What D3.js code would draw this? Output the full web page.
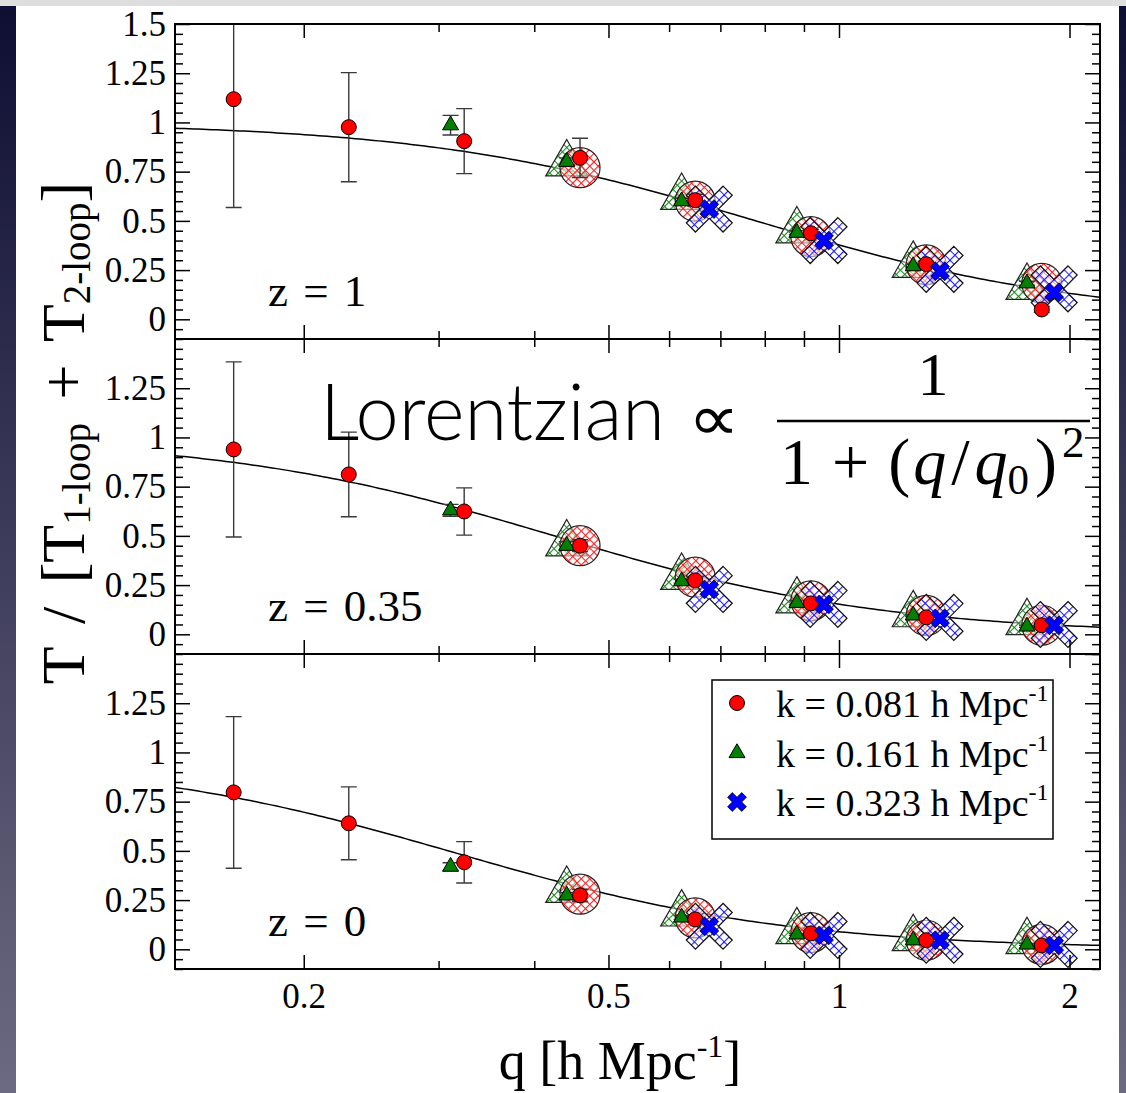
<!DOCTYPE html>
<html>
<head>
<meta charset="utf-8">
<script src="https://cdn.jsdelivr.net/npm/d3@7"></script>
<style>
  body { margin: 0; background: #fff; }
  svg { display: block; }
  .tick text { font-family: "Liberation Serif", "Times New Roman", serif; font-size: 35px; fill: #000; }
  .tick line { stroke: #000; stroke-width: 1.5; }
  .serif { font-family: "Liberation Serif", "Times New Roman", serif; fill: #000; }
</style>
</head>
<body>
<div id="chart"></div>
<script>
// Three stacked panels: T / [T1-loop + T2-loop] against q (log axis), one per redshift
const width = 1126, height = 1093;

// ---- values ----
const panelLabels = ["z = 1", "z = 0.35", "z = 0"];
const xMajor = [0.2, 0.5, 1, 2];
const xMinor = [0.3, 0.4, 0.6, 0.7, 0.8, 0.9];
const xTickLabels = ["0.2", "0.5", "1", "2"];
const yMajorTop = [0, 0.25, 0.5, 0.75, 1, 1.25, 1.5];
const yTickLabelsTop = ["0", "0.25", "0.5", "0.75", "1", "1.25", "1.5"];
const yMajor = [0, 0.25, 0.5, 0.75, 1, 1.25];
const yTickLabels = ["0", "0.25", "0.5", "0.75", "1", "1.25"];

const qRed   = [0.162, 0.229, 0.324, 0.459, 0.649, 0.919, 1.30, 1.84];
const qGreen = [0.311, 0.441, 0.623, 0.881, 1.25, 1.76];
const qBlue  = [0.677, 0.956, 1.355, 1.91];

// k = 0.081 (red circles), one row per panel
const redVal = [
  [1.118, 0.976, 0.905, 0.82, 0.605, 0.437, 0.28, 0.05],
  [0.939, 0.812, 0.624, 0.45, 0.274, 0.157, 0.086, 0.046],
  [0.797, 0.64, 0.442, 0.274, 0.152, 0.081, 0.046, 0.02]
];
const redErr = [
  [0.55, 0.277, 0.165, 0.10, 0.03, 0.02, 0.015, 0.015],
  [0.445, 0.215, 0.12, 0.03, 0.02, 0.015, 0.01, 0.01],
  [0.385, 0.185, 0.105, 0.03, 0.015, 0.01, 0.01, 0.01]
];
// k = 0.161 (green triangles)
const greenVal = [
  [0.986, 0.80, 0.60, 0.44, 0.27, 0.183],
  [0.63, 0.45, 0.27, 0.16, 0.096, 0.04],
  [0.42, 0.274, 0.162, 0.076, 0.046, 0.025]
];
const greenErr = [
  [0.05, 0.02, 0.015, 0.01, 0.01, 0.01],
  [0.03, 0.02, 0.01, 0.01, 0.005, 0.005],
  [0.02, 0.015, 0.01, 0.005, 0.005, 0.005]
];
// k = 0.323 (blue crosses)
const blueVal = [
  [0.56, 0.40, 0.244, 0.137],
  [0.228, 0.152, 0.081, 0.046],
  [0.117, 0.071, 0.046, 0.02]
];
// large hatched symbols (circles at qRed[3..7], triangles at qGreen[1..5], crosses at qBlue)
const hatchRed = [
  [0.77, 0.60, 0.42, 0.277, 0.183],
  [0.45, 0.29, 0.17, 0.096, 0.046],
  [0.28, 0.16, 0.085, 0.046, 0.025]
];
const hatchGreen = [
  [0.79, 0.62, 0.45, 0.275, 0.163],
  [0.46, 0.29, 0.17, 0.10, 0.06],
  [0.30, 0.18, 0.09, 0.055, 0.04]
];
const hatchBlue = [
  [0.56, 0.40, 0.254, 0.155],
  [0.228, 0.152, 0.086, 0.05],
  [0.117, 0.071, 0.046, 0.025]
];
// Lorentzian fit  A / (1 + (q/q0)^2)
const fitAmp = [1.0, 1.0, 0.972];
const fitQ0  = [0.779, 0.425, 0.318];

const legendLabels = ["k = 0.081 h Mpc", "k = 0.161 h Mpc", "k = 0.323 h Mpc"];

// ---- layout ----
const left = 175, right = 1100;
const panelTops = [24, 339, 654], panelH = 315;

const x = d3.scaleLog().domain([0.1358, 2.192]).range([left, right]);

const svg = d3.select("#chart").append("svg").attr("width", width).attr("height", height);
const defs = svg.append("defs");

// page backdrop (slide edges)
const side = defs.append("linearGradient").attr("id", "side")
  .attr("x1", 0).attr("x2", 0).attr("y1", 0).attr("y2", 1);
side.append("stop").attr("offset", "0%").attr("stop-color", "#0e0e33");
side.append("stop").attr("offset", "100%").attr("stop-color", "#6c6a82");
svg.append("rect").attr("width", width).attr("height", height).attr("fill", "#fff");
svg.append("rect").attr("x", 0).attr("width", 16).attr("height", height).attr("fill", "url(#side)");
svg.append("rect").attr("x", 1119).attr("width", 7).attr("height", height).attr("fill", "url(#side)");
svg.append("rect").attr("width", width).attr("height", 6).attr("fill", "#dedede");

// hatch patterns
function hatch(id, color, size, dots) {
  const p = defs.append("pattern").attr("id", id).attr("patternUnits", "userSpaceOnUse")
    .attr("width", size).attr("height", size).attr("patternTransform", "rotate(45)");
  p.append("rect").attr("width", size).attr("height", size).attr("fill", "#fff").attr("fill-opacity", 0.55);
  p.append("path").attr("d", `M0,0.5H${size}M0.5,0V${size}`)
    .attr("stroke", color).attr("stroke-width", 1.2);
  if (dots) p.append("circle").attr("cx", 0.5).attr("cy", 0.5).attr("r", 1.3).attr("fill", color);
}
hatch("hRed", "#ff1a1a", 6, false);
hatch("hGreen", "#1a8a1a", 6, false);
hatch("hBlue", "#2020ff", 7, true);

// symbol shapes
const triPath = s => {
  const h = s * Math.sqrt(3) / 2;
  return `M0,${-2 * h / 3}L${s / 2},${h / 3}L${-s / 2},${h / 3}Z`;
};
const crossPath = (h, a) => {
  const pts = [[-a,-h],[a,-h],[a,-a],[h,-a],[h,a],[a,a],[a,h],[-a,h],[-a,a],[-h,a],[-h,-a],[-a,-a]]
    .map(([px, py]) => [(px - py) / Math.SQRT2, (px + py) / Math.SQRT2]);
  return "M" + pts.map(p => p.join(",")).join("L") + "Z";
};

const yMinor = d3.range(-0.1, 1.5001, 0.05).map(v => +v.toFixed(2)).filter(v => Math.abs(v / 0.25 - Math.round(v / 0.25)) > 1e-6);

panelTops.forEach((top, i) => {
  const bottom = top + panelH;
  const y = d3.scaleLinear().domain([-0.1, 1.5]).range([bottom, top]);
  const g = svg.append("g");

  defs.append("clipPath").attr("id", `clip${i}`).append("rect")
    .attr("x", left).attr("y", top).attr("width", right - left).attr("height", panelH);
  const plot = g.append("g").attr("clip-path", `url(#clip${i})`);

  // fit curve
  const qs = d3.range(0, 201).map(j => x.invert(left + (right - left) * j / 200));
  plot.append("path")
    .datum(qs)
    .attr("fill", "none").attr("stroke", "#000").attr("stroke-width", 1.5)
    .attr("d", d3.line().x(q => x(q)).y(q => y(fitAmp[i] / (1 + (q / fitQ0[i]) ** 2))));

  // large hatched symbols
  plot.selectAll(".ht").data(hatchGreen[i]).join("path")
    .attr("transform", (d, j) => `translate(${x(qGreen[j + 1])},${y(d)})`)
    .attr("d", triPath(42)).attr("fill", "url(#hGreen)").attr("stroke", "#222").attr("stroke-width", 1.2);
  plot.selectAll(".hc").data(hatchRed[i]).join("circle")
    .attr("cx", (d, j) => x(qRed[j + 3])).attr("cy", d => y(d)).attr("r", 20)
    .attr("fill", "url(#hRed)").attr("stroke", "#222").attr("stroke-width", 1.2);
  plot.selectAll(".hx").data(hatchBlue[i]).join("path")
    .attr("transform", (d, j) => `translate(${x(qBlue[j])},${y(d)})`)
    .attr("d", crossPath(26, 6.5)).attr("fill", "url(#hBlue)").attr("stroke", "#111").attr("stroke-width", 1.2);

  // error bars
  function errBars(qArr, vals, errs) {
    const eb = plot.append("g").attr("stroke", "#3a3a3a").attr("stroke-width", 1.4).attr("fill", "none");
    vals.forEach((v, j) => {
      const cx = x(qArr[j]), y0 = y(v - errs[j]), y1 = y(v + errs[j]);
      eb.append("path").attr("d", `M${cx},${y0}V${y1}M${cx - 8},${y0}H${cx + 8}M${cx - 8},${y1}H${cx + 8}`);
    });
  }
  errBars(qGreen, greenVal[i], greenErr[i]);
  errBars(qRed, redVal[i], redErr[i]);

  // small symbols
  plot.selectAll(".st").data(greenVal[i]).join("path")
    .attr("transform", (d, j) => `translate(${x(qGreen[j])},${y(d)})`)
    .attr("d", triPath(16)).attr("fill", "#007f00").attr("stroke", "#000").attr("stroke-width", 1);
  plot.selectAll(".sc").data(redVal[i]).join("circle")
    .attr("cx", (d, j) => x(qRed[j])).attr("cy", d => y(d)).attr("r", 7.5)
    .attr("fill", "#ff0000").attr("stroke", "#000").attr("stroke-width", 1);
  plot.selectAll(".sx").data(blueVal[i]).join("path")
    .attr("transform", (d, j) => `translate(${x(qBlue[j])},${y(d)})`)
    .attr("d", crossPath(10, 3.3)).attr("fill", "#0000ff").attr("stroke", "#000").attr("stroke-width", 0.8);

  // axes, ticks pointing inwards on all four sides
  const clean = s => s.select(".domain").remove();
  g.append("g").attr("transform", `translate(0,${bottom})`)
    .call(d3.axisBottom(x).tickValues(xMajor).tickSize(-14).tickPadding(14)
      .tickFormat((d, j) => i === 2 ? xTickLabels[j] : ""))
    .call(clean);
  g.append("g").attr("transform", `translate(0,${bottom})`)
    .call(d3.axisBottom(x).tickValues(xMinor).tickSize(-8).tickFormat("")).call(clean);
  g.append("g").attr("transform", `translate(0,${top})`)
    .call(d3.axisTop(x).tickValues(xMajor).tickSize(-14).tickFormat("")).call(clean);
  g.append("g").attr("transform", `translate(0,${top})`)
    .call(d3.axisTop(x).tickValues(xMinor).tickSize(-8).tickFormat("")).call(clean);

  const yM = i === 0 ? yMajorTop : yMajor;
  const yL = i === 0 ? yTickLabelsTop : yTickLabels;
  g.append("g").attr("transform", `translate(${left},0)`)
    .call(d3.axisLeft(y).tickValues(yM).tickSize(-15).tickPadding(9).tickFormat((d, j) => yL[j]))
    .call(clean);
  g.append("g").attr("transform", `translate(${left},0)`)
    .call(d3.axisLeft(y).tickValues(yMinor).tickSize(-8).tickFormat("")).call(clean);
  g.append("g").attr("transform", `translate(${right},0)`)
    .call(d3.axisRight(y).tickValues(yMajorTop).tickSize(-15).tickFormat("")).call(clean);
  g.append("g").attr("transform", `translate(${right},0)`)
    .call(d3.axisRight(y).tickValues(yMinor).tickSize(-8).tickFormat("")).call(clean);

  g.append("rect").attr("x", left).attr("y", top).attr("width", right - left).attr("height", panelH)
    .attr("fill", "none").attr("stroke", "#000").attr("stroke-width", 2);

  g.append("text").attr("class", "serif").attr("x", 268).attr("y", top + 282)
    .attr("font-size", 45).attr("word-spacing", 4).text(panelLabels[i]);
});

// ---- axis titles ----
const xt = svg.append("text").attr("class", "serif").attr("x", 620).attr("y", 1079)
  .attr("text-anchor", "middle").attr("font-size", 54);
xt.append("tspan").text("q [h Mpc");
xt.append("tspan").attr("font-size", 32).attr("dy", -22).text("-1");
xt.append("tspan").attr("dy", 22).text("]");

const yt = svg.append("text").attr("class", "serif")
  .attr("transform", "translate(84,433) rotate(-90)")
  .attr("text-anchor", "middle").attr("font-size", 62).attr("word-spacing", 8);
yt.append("tspan").text("T / [T");
yt.append("tspan").attr("font-size", 39).attr("dy", 6).text("1-loop");
yt.append("tspan").attr("dy", -6).text(" + T");
yt.append("tspan").attr("font-size", 39).attr("dy", 6).text("2-loop");
yt.append("tspan").attr("dy", -6).text("]");

// ---- Lorentzian annotation ----
svg.append("text").attr("x", 320).attr("y", 440)
  .attr("font-family", "Lato, 'Open Sans', sans-serif").attr("font-weight", 300)
  .attr("font-size", 78).attr("textLength", 345).attr("lengthAdjust", "spacingAndGlyphs")
  .attr("fill", "#000").text("Lorentzian");
svg.append("text").attr("class", "serif").attr("x", 688).attr("y", 440)
  .attr("font-size", 64).attr("textLength", 52).attr("lengthAdjust", "spacingAndGlyphs")
  .text("\u221D");
svg.append("text").attr("class", "serif").attr("x", 933).attr("y", 395)
  .attr("text-anchor", "middle").attr("font-size", 62).text("1");
svg.append("line").attr("x1", 777).attr("x2", 1090).attr("y1", 421).attr("y2", 421)
  .attr("stroke", "#000").attr("stroke-width", 2.5);
const den = svg.append("text").attr("class", "serif").attr("x", 780).attr("y", 484).attr("font-size", 66);
den.append("tspan").text("1");
den.append("tspan").attr("dx", 19).text("+");
den.append("tspan").attr("dx", 19).text("(");
den.append("tspan").attr("font-style", "italic").attr("dx", 3).text("q");
den.append("tspan").attr("dx", 5).text("/");
den.append("tspan").attr("font-style", "italic").attr("dx", 5).text("q");
den.append("tspan").attr("font-size", 43).attr("dy", 10).text("0");
den.append("tspan").attr("dy", -10).attr("dx", 6).text(")");
den.append("tspan").attr("font-size", 45).attr("dy", -27).attr("dx", 5).text("2");

// ---- legend ----
const lg = svg.append("g");
lg.append("rect").attr("x", 712).attr("y", 680).attr("width", 341).attr("height", 159)
  .attr("fill", "#fff").attr("stroke", "#000").attr("stroke-width", 1.5);
const rowsY = [703, 753, 802];
lg.append("circle").attr("cx", 737).attr("cy", rowsY[0]).attr("r", 7.5)
  .attr("fill", "#ff0000").attr("stroke", "#000");
lg.append("path").attr("transform", `translate(737,${rowsY[1]})`).attr("d", triPath(16))
  .attr("fill", "#007f00").attr("stroke", "#000");
lg.append("path").attr("transform", `translate(737,${rowsY[2]})`).attr("d", crossPath(10, 3.3))
  .attr("fill", "#0000ff").attr("stroke", "#000").attr("stroke-width", 0.8);
legendLabels.forEach((t, j) => {
  const tx = lg.append("text").attr("class", "serif").attr("x", 776).attr("y", rowsY[j] + 14)
    .attr("font-size", 38);
  tx.append("tspan").text(t);
  tx.append("tspan").attr("font-size", 24).attr("dy", -16).text("-1");
});
</script>
</body>
</html>
